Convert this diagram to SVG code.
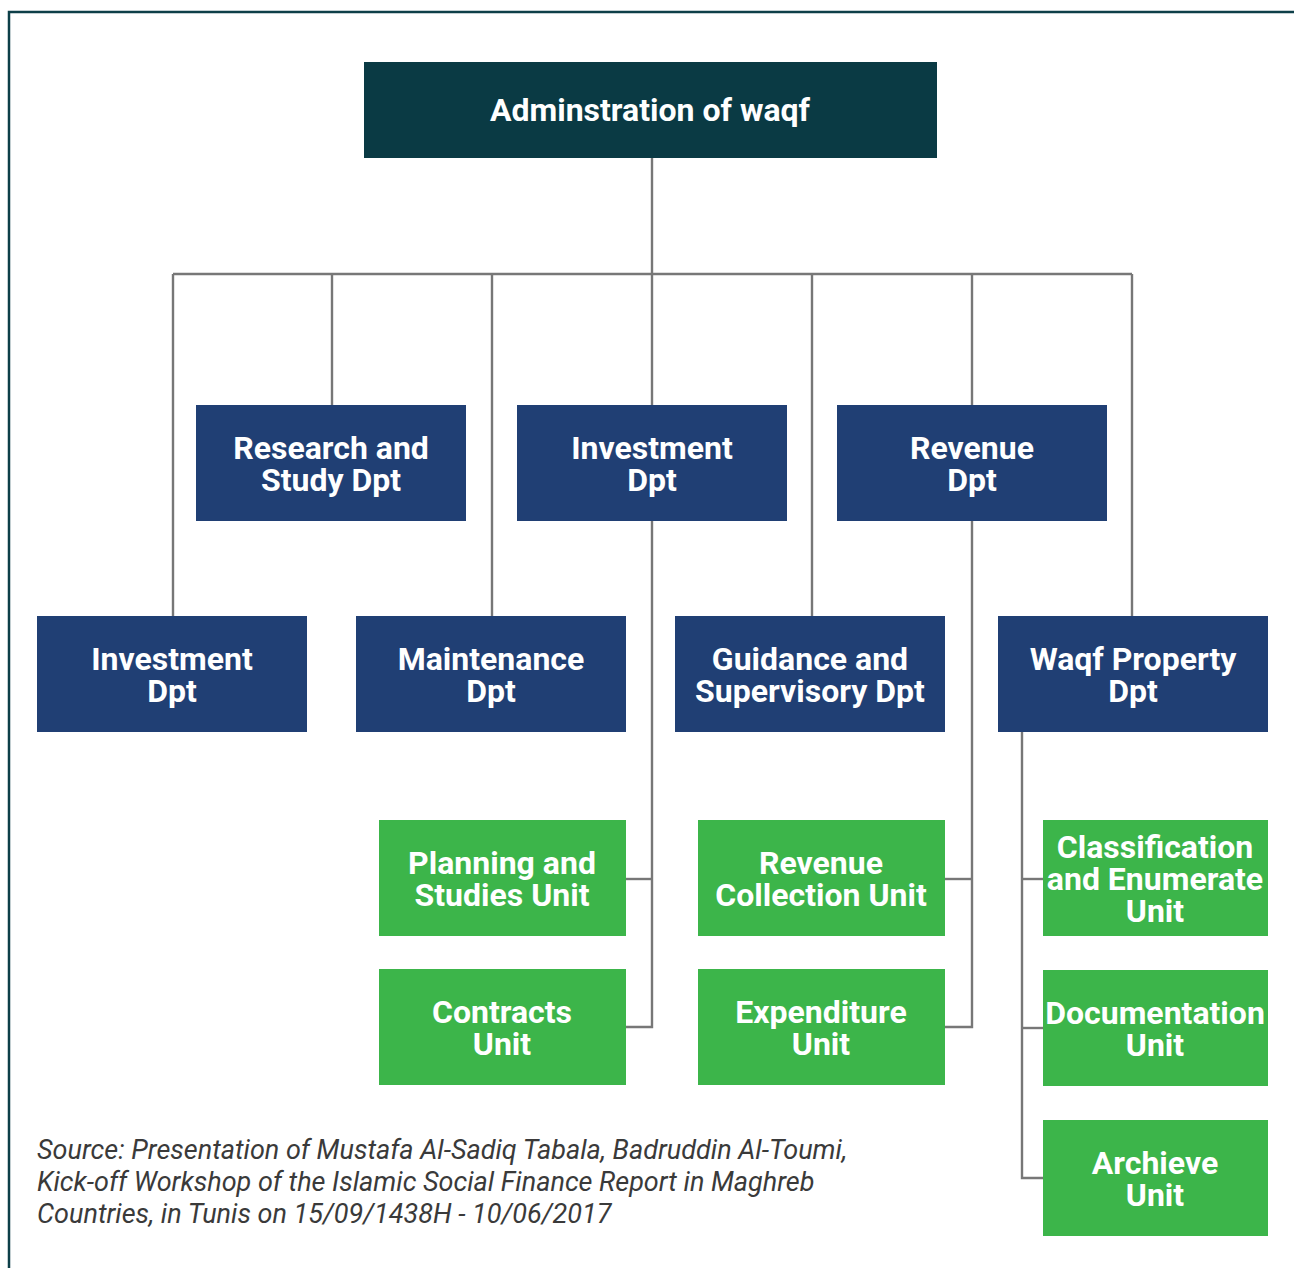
<svg xmlns="http://www.w3.org/2000/svg" width="1294" height="1268" viewBox="0 0 1294 1268">
  <style>
    .frame { fill: none; stroke: #0d3f48; stroke-width: 2.5; }
    .root { fill: #0a3a44; }
    .dept { fill: #203f74; }
    .unit { fill: #3cb54a; }
    .lbl { font-family: Roboto, "Liberation Sans", sans-serif; font-weight: 700; font-size: 32px; fill: #ffffff; text-anchor: middle; }
    .wire { fill: none; stroke: #777777; stroke-width: 2.4; }
    .src { font-family: Roboto, "Liberation Sans", sans-serif; font-style: italic; font-size: 27px; fill: #3a3a3a; }
  </style>
  <rect width="1294" height="1268" fill="#ffffff"/>
  <!-- outer frame: top and left edges only -->
  <path class="frame" d="M9 1268 V12 H1294"/>

  <g id="connectors">
    <path class="wire" d="M652 158 V405"/>
    <path class="wire" d="M173 274 H1132"/>
    <path class="wire" d="M173 274 V616"/>
    <path class="wire" d="M332 274 V405"/>
    <path class="wire" d="M492 274 V616"/>
    <path class="wire" d="M812 274 V616"/>
    <path class="wire" d="M972 274 V405"/>
    <path class="wire" d="M1132 274 V616"/>
    <!-- Investment Dpt units -->
    <path class="wire" d="M652 521 V1027 H626"/>
    <path class="wire" d="M652 879 H626"/>
    <!-- Revenue Dpt units -->
    <path class="wire" d="M972 521 V1027 H945"/>
    <path class="wire" d="M972 879 H945"/>
    <!-- Waqf Property Dpt units -->
    <path class="wire" d="M1022 732 V1178 H1043"/>
    <path class="wire" d="M1022 879 H1043"/>
    <path class="wire" d="M1022 1028 H1043"/>
  </g>

  <g id="admin">
    <rect class="root" x="364" y="62" width="573" height="96"/>
    <text class="lbl" x="650" y="121">Adminstration of waqf</text>
  </g>

  <g id="research-dpt">
    <rect class="dept" x="196" y="405" width="270" height="116"/>
    <text class="lbl" x="331" y="459">Research and</text>
    <text class="lbl" x="331" y="491">Study Dpt</text>
  </g>
  <g id="investment-dpt-mid">
    <rect class="dept" x="517" y="405" width="270" height="116"/>
    <text class="lbl" x="652" y="459">Investment</text>
    <text class="lbl" x="652" y="491">Dpt</text>
  </g>
  <g id="revenue-dpt">
    <rect class="dept" x="837" y="405" width="270" height="116"/>
    <text class="lbl" x="972" y="459">Revenue</text>
    <text class="lbl" x="972" y="491">Dpt</text>
  </g>

  <g id="investment-dpt-left">
    <rect class="dept" x="37" y="616" width="270" height="116"/>
    <text class="lbl" x="172" y="670">Investment</text>
    <text class="lbl" x="172" y="702">Dpt</text>
  </g>
  <g id="maintenance-dpt">
    <rect class="dept" x="356" y="616" width="270" height="116"/>
    <text class="lbl" x="491" y="670">Maintenance</text>
    <text class="lbl" x="491" y="702">Dpt</text>
  </g>
  <g id="guidance-dpt">
    <rect class="dept" x="675" y="616" width="270" height="116"/>
    <text class="lbl" x="810" y="670">Guidance and</text>
    <text class="lbl" x="810" y="702">Supervisory Dpt</text>
  </g>
  <g id="waqf-property-dpt">
    <rect class="dept" x="998" y="616" width="270" height="116"/>
    <text class="lbl" x="1133" y="670">Waqf Property</text>
    <text class="lbl" x="1133" y="702">Dpt</text>
  </g>

  <g id="planning-unit">
    <rect class="unit" x="379" y="820" width="247" height="116"/>
    <text class="lbl" x="502" y="874">Planning and</text>
    <text class="lbl" x="502" y="906">Studies Unit</text>
  </g>
  <g id="contracts-unit">
    <rect class="unit" x="379" y="969" width="247" height="116"/>
    <text class="lbl" x="502" y="1023">Contracts</text>
    <text class="lbl" x="502" y="1055">Unit</text>
  </g>
  <g id="revenue-collection-unit">
    <rect class="unit" x="698" y="820" width="247" height="116"/>
    <text class="lbl" x="821" y="874">Revenue</text>
    <text class="lbl" x="821" y="906">Collection Unit</text>
  </g>
  <g id="expenditure-unit">
    <rect class="unit" x="698" y="969" width="247" height="116"/>
    <text class="lbl" x="821" y="1023">Expenditure</text>
    <text class="lbl" x="821" y="1055">Unit</text>
  </g>
  <g id="classification-unit">
    <rect class="unit" x="1043" y="820" width="225" height="116"/>
    <text class="lbl" x="1155" y="858">Classification</text>
    <text class="lbl" x="1155" y="890">and Enumerate</text>
    <text class="lbl" x="1155" y="922">Unit</text>
  </g>
  <g id="documentation-unit">
    <rect class="unit" x="1043" y="970" width="225" height="116"/>
    <text class="lbl" x="1155" y="1024">Documentation</text>
    <text class="lbl" x="1155" y="1056">Unit</text>
  </g>
  <g id="archive-unit">
    <rect class="unit" x="1043" y="1120" width="225" height="116"/>
    <text class="lbl" x="1155" y="1174">Archieve</text>
    <text class="lbl" x="1155" y="1206">Unit</text>
  </g>

  <g id="source-note">
    <text class="src" x="37" y="1159">Source: Presentation of Mustafa Al-Sadiq Tabala, Badruddin Al-Toumi,</text>
    <text class="src" x="37" y="1191">Kick-off Workshop of the Islamic Social Finance Report in Maghreb</text>
    <text class="src" x="37" y="1223">Countries, in Tunis on 15/09/1438H - 10/06/2017</text>
  </g>
</svg>
